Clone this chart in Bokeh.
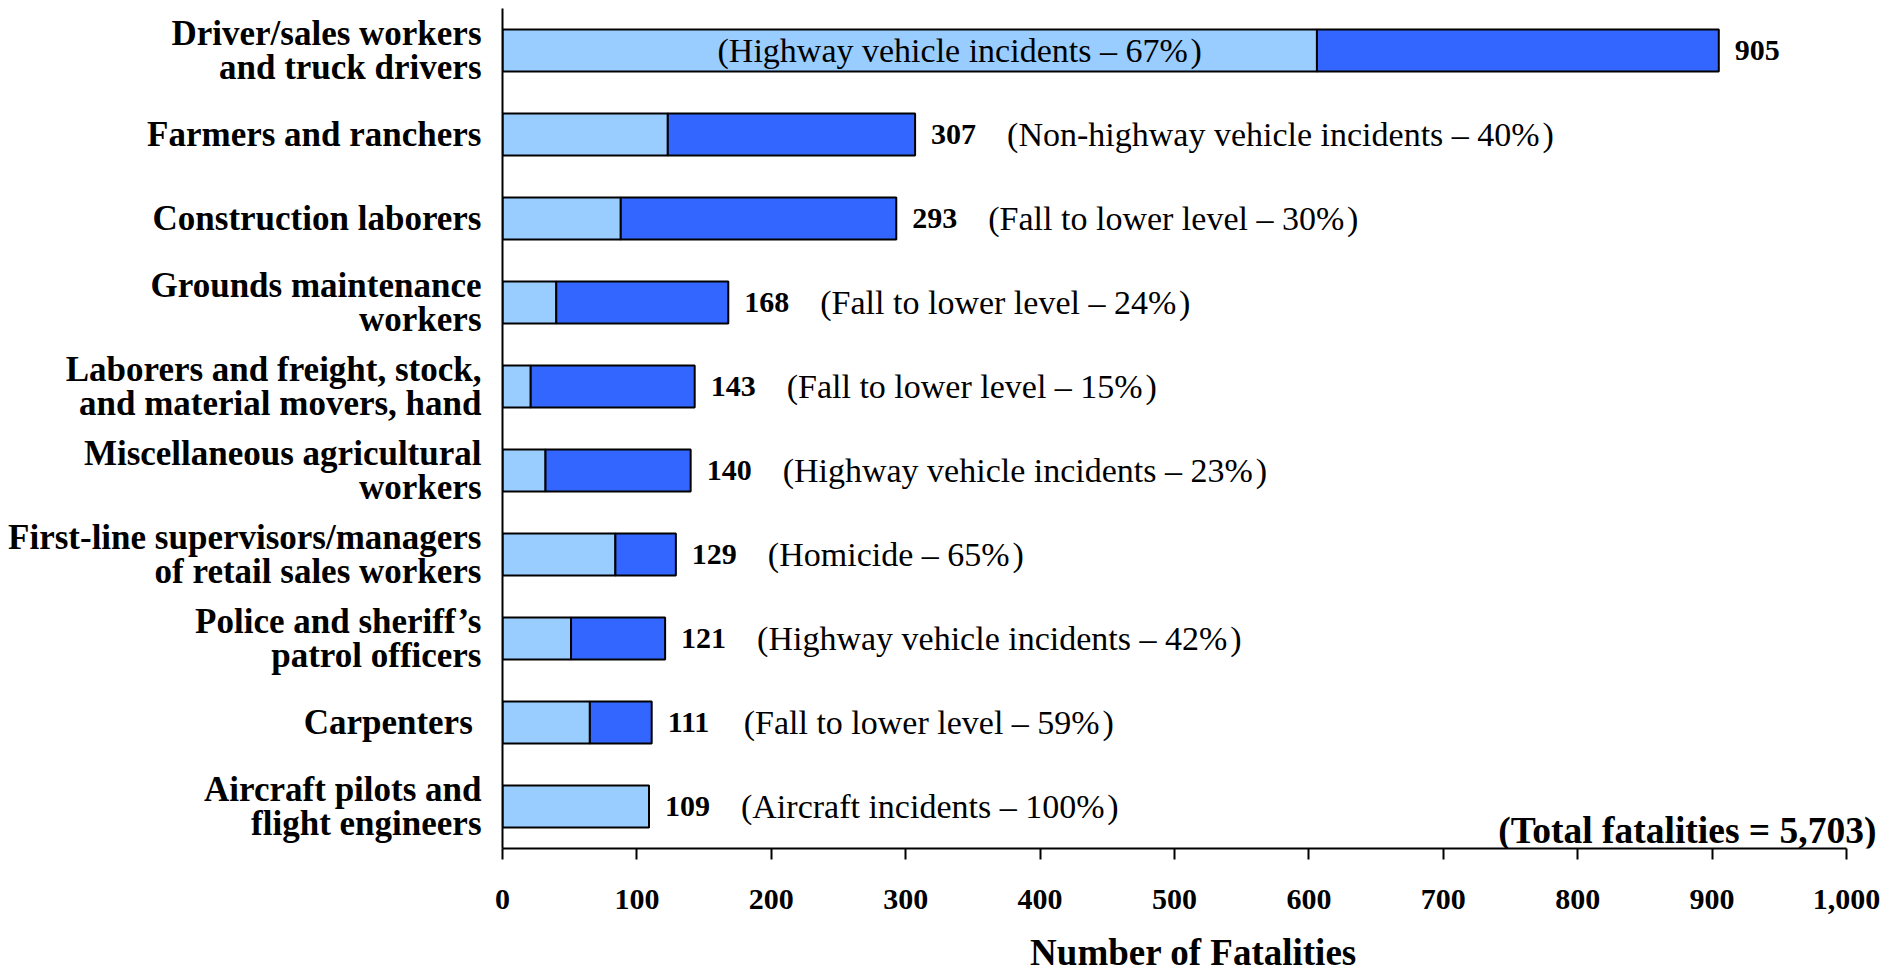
from bokeh.plotting import figure
from bokeh.models import ColumnDataSource, FactorRange, Range1d, Label, FixedTicker, NumeralTickFormatter
from bokeh.embed import file_html
from bokeh.resources import INLINE
from bokeh.core.properties import value

occupations = [
    "Driver/sales workers\nand truck drivers",
    "Farmers and ranchers",
    "Construction laborers",
    "Grounds maintenance\nworkers",
    "Laborers and freight, stock,\nand material movers, hand",
    "Miscellaneous agricultural\nworkers",
    "First-line supervisors/managers\nof retail sales workers",
    "Police and sheriff\u2019s\npatrol officers",
    "Carpenters ",
    "Aircraft pilots and\nflight engineers",
]
totals = [905, 307, 293, 168, 143, 140, 129, 121, 111, 109]
leading_event_count = [606, 123, 88, 40, 21, 32, 84, 51, 65, 109]
leading_event = [
    "(Highway vehicle incidents \u2013 67%\u200a)",
    "(Non-highway vehicle incidents \u2013 40%\u200a)",
    "(Fall to lower level \u2013 30%\u200a)",
    "(Fall to lower level \u2013 24%\u200a)",
    "(Fall to lower level \u2013 15%\u200a)",
    "(Highway vehicle incidents \u2013 23%\u200a)",
    "(Homicide \u2013 65%\u200a)",
    "(Highway vehicle incidents \u2013 42%\u200a)",
    "(Fall to lower level \u2013 59%\u200a)",
    "(Aircraft incidents \u2013 100%\u200a)",
]
x_ticks = [0, 100, 200, 300, 400, 500, 600, 700, 800, 900, 1000]
total_note = "(Total fatalities = 5,703)"
x_title = "Number of Fatalities"

LIGHT = "#99CCFF"
DARK = "#3366FF"
FONT = "Liberation Serif"

src = ColumnDataSource(dict(
    occ=occupations,
    total=totals,
    lead=leading_event_count,
    label=[str(v) for v in totals],
))
outside = ColumnDataSource(dict(
    occ=occupations[1:],
    total=totals[1:],
    note=leading_event[1:],
))

p = figure(
    width=1898, height=975,
    y_range=FactorRange(factors=occupations[::-1]),
    x_range=Range1d(0, 1028.3),
    output_backend="svg", toolbar_location=None,
    min_border_left=502, min_border_right=14,
    min_border_top=8, min_border_bottom=126,
)
p.outline_line_color = None
p.grid.visible = False
p.background_fill_color = "white"

p.hbar(y="occ", left=0, right="lead", height=0.5, source=src,
       fill_color=LIGHT, line_color="black", line_width=2)
p.hbar(y="occ", left="lead", right="total", height=0.5, source=src,
       fill_color=DARK, line_color="black", line_width=2)

p.text(x="total", y="occ", text="label", source=src, x_offset=16,
       text_font=value(FONT), text_font_style="bold", text_font_size="30px",
       text_align="left", text_baseline="middle", text_color="black")
p.text(x="total", y="occ", text="note", source=outside, x_offset=92,
       text_font=value(FONT), text_font_size="34px",
       text_align="left", text_baseline="middle", text_color="black")
# note for the first (longest) bar sits inside the bar
p.text(x=[160], y=[occupations[0]], text=[leading_event[0]],
       text_font=value(FONT), text_font_size="34px",
       text_align="left", text_baseline="middle", text_color="black")

p.add_layout(Label(x=1000, y=0.22, x_offset=30, text=total_note,
                   text_font=FONT, text_font_style="bold", text_font_size="37.5px",
                   text_align="right", text_baseline="middle", text_color="black"))

ya = p.yaxis[0]
ya.axis_line_width = 2
ya.axis_line_color = "black"
ya.major_tick_line_color = None
ya.minor_tick_line_color = None
ya.major_label_text_font = FONT
ya.major_label_text_font_style = "bold"
ya.major_label_text_font_size = "35px"
ya.major_label_text_line_height = 0.85
ya.major_label_text_color = "black"
ya.major_label_standoff = 15

xa = p.xaxis[0]
xa.bounds = (0, 1000)
xa.ticker = FixedTicker(ticks=x_ticks)
xa.formatter = NumeralTickFormatter(format="0,0")
xa.axis_line_width = 2
xa.axis_line_color = "black"
xa.major_tick_line_width = 2
xa.major_tick_line_color = "black"
xa.major_tick_out = 11
xa.major_tick_in = 0
xa.minor_tick_line_color = None
xa.major_label_text_font = FONT
xa.major_label_text_font_style = "bold"
xa.major_label_text_font_size = "30px"
xa.major_label_text_line_height = 0.8
xa.major_label_text_color = "black"
xa.major_label_standoff = 30
xa.axis_label = x_title
xa.axis_label_text_font = FONT
xa.axis_label_text_font_style = "bold"
xa.axis_label_text_font_size = "37px"
xa.axis_label_text_line_height = 0.8
xa.axis_label_text_color = "black"
xa.axis_label_standoff = 20

open("out.html", "w").write(file_html(p, INLINE))
